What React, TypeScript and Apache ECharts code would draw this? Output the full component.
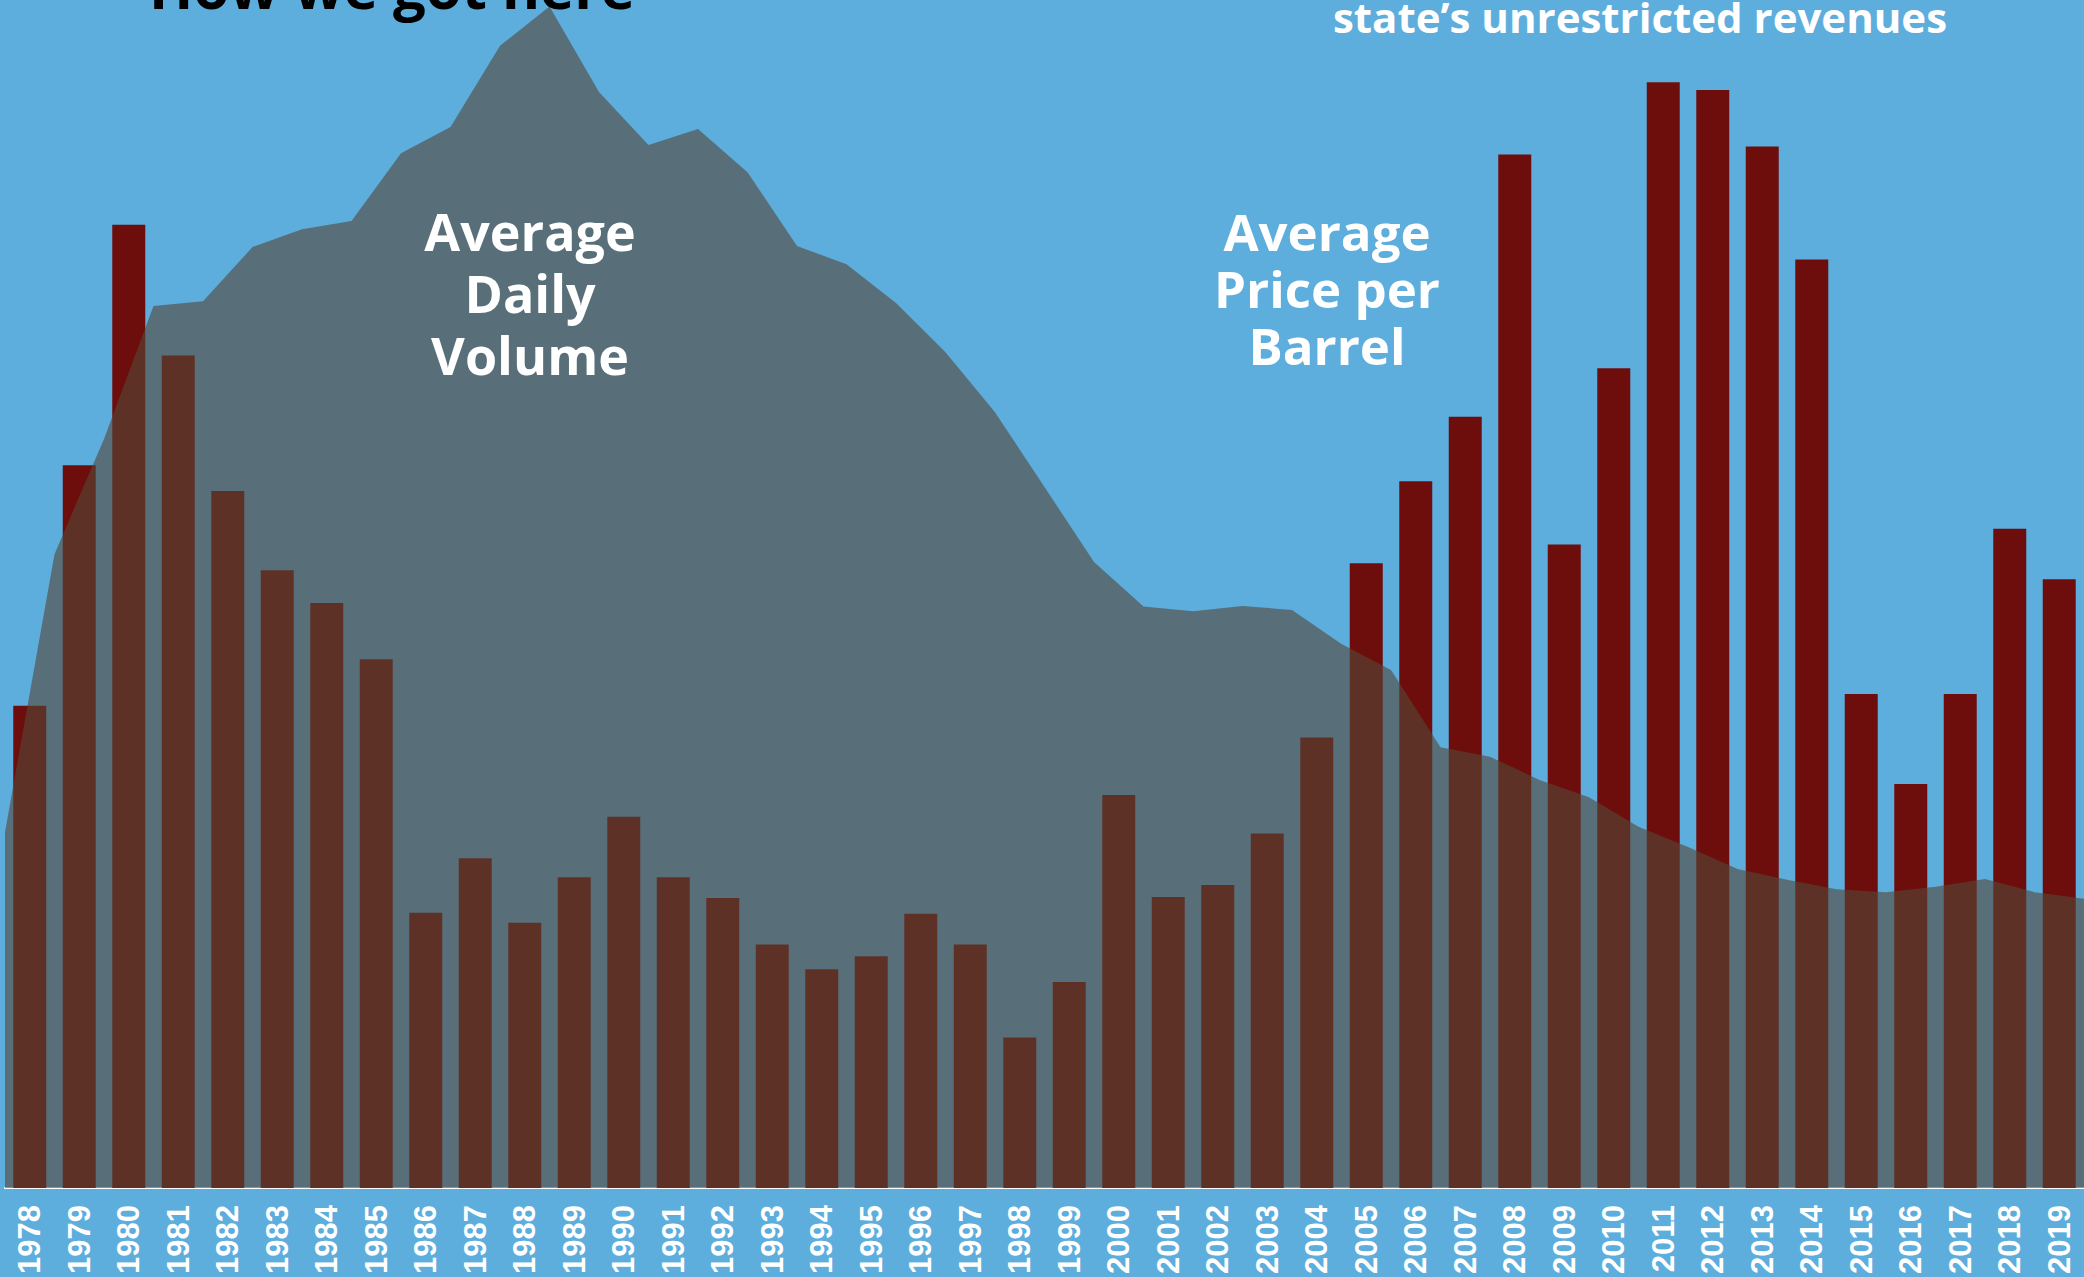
import React, { useEffect, useRef } from "react";
import * as echarts from "echarts";

const years = [
  "1978", "1979", "1980", "1981", "1982", "1983", "1984", "1985", "1986", "1987",
  "1988", "1989", "1990", "1991", "1992", "1993", "1994", "1995", "1996", "1997",
  "1998", "1999", "2000", "2001", "2002", "2003", "2004", "2005", "2006", "2007",
  "2008", "2009", "2010", "2011", "2012", "2013", "2014", "2015", "2016", "2017",
  "2018", "2019",
];

// Average price per barrel (bars)
const pricePerBarrel = [
  48.7, 73.0, 97.3, 84.1, 70.4, 62.4, 59.1, 53.4, 27.8, 33.3,
  26.8, 31.4, 37.5, 31.4, 29.3, 24.6, 22.1, 23.4, 27.7, 24.6,
  15.2, 20.8, 39.7, 29.4, 30.6, 35.8, 45.5, 63.1, 71.4, 77.9,
  104.4, 65.0, 82.8, 111.7, 110.9, 105.2, 93.8, 49.9, 40.8, 49.9,
  66.6, 61.5,
];

// Average daily volume (area), sampled at the year boundaries
const volumePoints = [
  "1978", "1979", "1980", "1981", "1982", "1983", "1984", "1985", "1986", "1987",
  "1988", "1989", "1990", "1991", "1992", "1993", "1994", "1995", "1996", "1997",
  "1998", "1999", "2000", "2001", "2002", "2003", "2004", "2005", "2006", "2007",
  "2008", "2009", "2010", "2011", "2012", "2013", "2014", "2015", "2016", "2017",
  "2018", "2019", "2020",
];
const dailyVolume = [
  599, 1067, 1261, 1485, 1493, 1584, 1614, 1628, 1742, 1786,
  1923, 1989, 1845, 1756, 1783, 1710, 1586, 1555, 1490, 1407,
  1306, 1180, 1054, 979, 971, 980, 973, 916, 872, 742,
  726, 687, 658, 608, 574, 537, 519, 503, 498, 507,
  520, 498, 487,
];

const priceMax = 120;
const volumeMax = 2000;

export default function App() {
  const ref = useRef<HTMLDivElement>(null);

  useEffect(() => {
    if (!ref.current) return;
    const chart = echarts.init(ref.current, undefined, { renderer: "svg" });
    const font = "'Open Sans', 'DejaVu Sans', sans-serif";
    chart.setOption({
      animation: false,
      backgroundColor: "#5daedd",
      grid: {
        left: 5,
        right: 0,
        top: 0,
        bottom: 89,
        containLabel: false,
        outerBoundsMode: "none",
      },
      xAxis: [
        {
          type: "category",
          data: years,
          boundaryGap: true,
          position: "bottom",
          axisLine: { show: true, lineStyle: { color: "#ffffff", width: 2 } },
          axisTick: { show: false },
          axisLabel: {
            interval: 0,
            rotate: 90,
            color: "#ffffff",
            fontWeight: "bold",
            fontSize: 31,
            fontFamily: "'Liberation Sans Narrow', 'Arial Narrow', 'Liberation Sans', sans-serif",
            margin: 17,
          },
        },
        {
          type: "category",
          data: volumePoints,
          boundaryGap: false,
          position: "bottom",
          offset: 3,
          axisLine: { show: true, lineStyle: { color: "#ffffff", width: 1.5 } },
          axisTick: { show: false },
          axisLabel: { show: false },
        },
      ],
      yAxis: [
        { type: "value", min: 0, max: priceMax, show: false, splitLine: { show: false } },
        { type: "value", min: 0, max: volumeMax, show: false, splitLine: { show: false } },
      ],
      series: [
        {
          name: "Average Price per Barrel",
          type: "bar",
          xAxisIndex: 0,
          yAxisIndex: 0,
          data: pricePerBarrel,
          barWidth: 33,
          itemStyle: { color: "#6e0e0c" },
          z: 2,
        },
        {
          name: "Average Daily Volume",
          type: "line",
          xAxisIndex: 1,
          yAxisIndex: 1,
          data: dailyVolume,
          showSymbol: false,
          symbol: "none",
          lineStyle: { width: 0, opacity: 0 },
          areaStyle: { color: "#554839", opacity: 0.61 },
          z: 3,
        },
      ],
      graphic: [
        {
          type: "text",
          x: 392,
          y: -14,
          z: 10,
          style: {
            text: "How we got here",
            fill: "#000000",
            fontSize: 58,
            fontWeight: "bold",
            fontFamily: font,
            align: "center",
            verticalAlign: "middle",
          },
        },
        {
          type: "text",
          x: 1640,
          y: 16,
          z: 10,
          style: {
            text: "state\u2019s unrestricted revenues",
            fill: "#ffffff",
            fontSize: 42,
            fontWeight: "bold",
            fontFamily: font,
            align: "center",
            verticalAlign: "middle",
          },
        },
        {
          type: "text",
          x: 530,
          y: 292,
          z: 10,
          style: {
            text: "Average\nDaily\nVolume",
            fill: "#ffffff",
            fontSize: 52,
            fontWeight: "bold",
            fontFamily: font,
            align: "center",
            verticalAlign: "middle",
            lineHeight: 62,
          },
        },
        {
          type: "text",
          x: 1327,
          y: 288,
          z: 10,
          style: {
            text: "Average\nPrice per\nBarrel",
            fill: "#ffffff",
            fontSize: 51,
            fontWeight: "bold",
            fontFamily: font,
            align: "center",
            verticalAlign: "middle",
            lineHeight: 57,
          },
        },
      ],
    });
    return () => chart.dispose();
  }, []);

  return (
    <div
      ref={ref}
      style={{ position: "fixed", left: 0, top: 0, width: 2084, height: 1277 }}
    />
  );
}
